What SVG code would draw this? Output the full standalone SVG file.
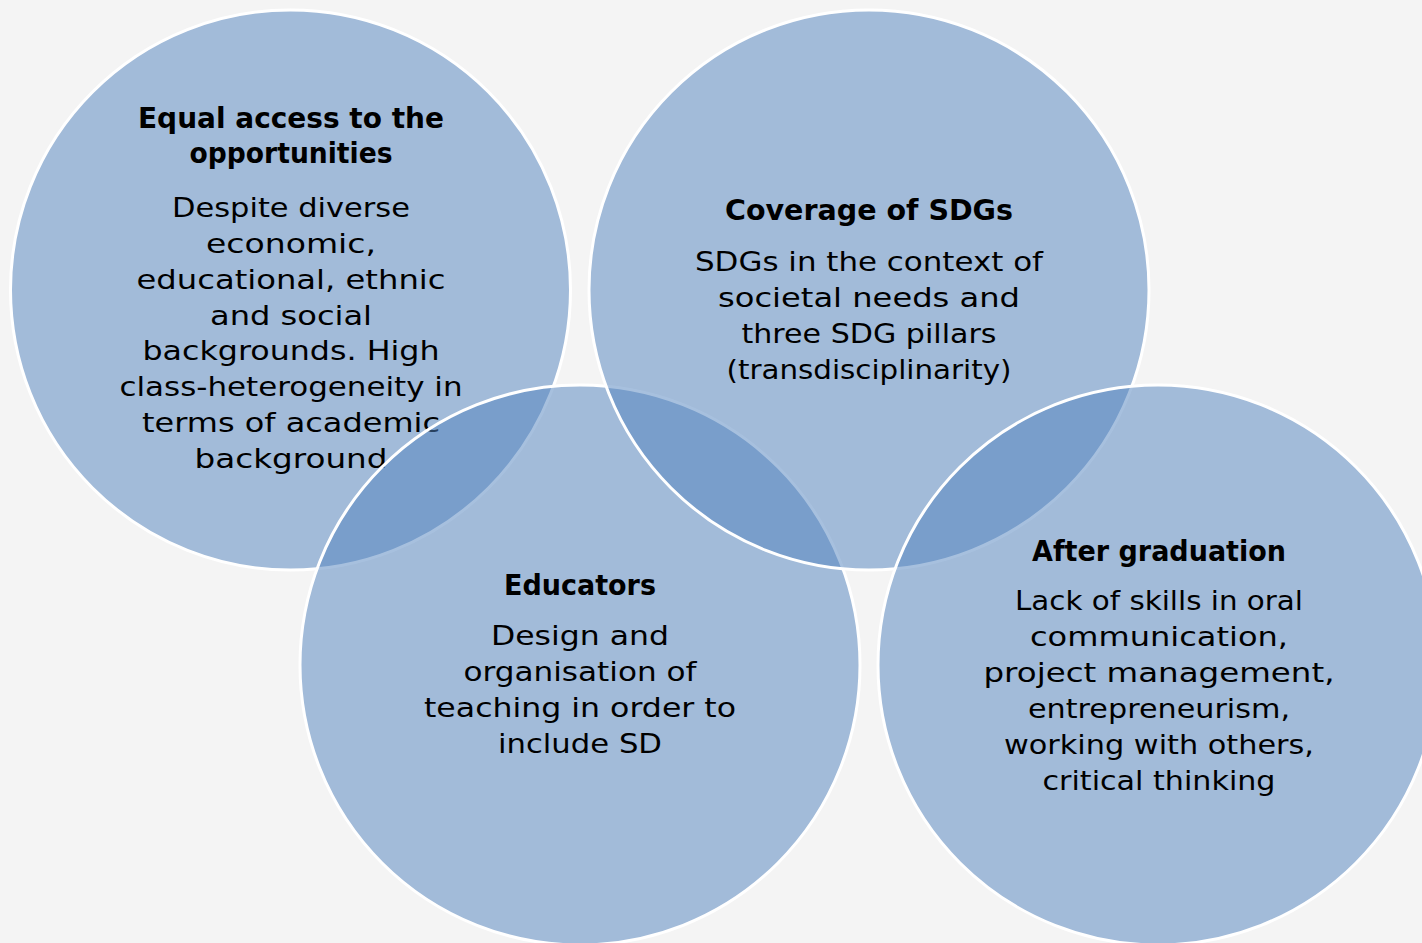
<svg xmlns="http://www.w3.org/2000/svg" width="1422" height="943" viewBox="0 0 1422 943">
<style>
.c{fill:#4f81bd;fill-opacity:0.5;stroke:#ffffff;stroke-width:3}
.t{font-family:"DejaVu Sans","Liberation Sans",sans-serif;font-size:27px;fill:#000;text-anchor:middle}
.b{font-family:"DejaVu Sans","Liberation Sans",sans-serif;font-size:28px;font-weight:bold;fill:#000;text-anchor:middle}
</style>
<rect x="0" y="0" width="1422" height="943" fill="#f4f4f4"/>
<g id="node-equal-access">
<circle class="c" cx="290.5" cy="290" r="280"/>
<text class="b" x="291" y="128" textLength="306" lengthAdjust="spacingAndGlyphs">Equal access to the</text>
<text class="b" x="291" y="163" textLength="203" lengthAdjust="spacingAndGlyphs">opportunities</text>
<text class="t" x="291" y="217" textLength="238" lengthAdjust="spacingAndGlyphs">Despite diverse</text>
<text class="t" x="291" y="253" textLength="170" lengthAdjust="spacingAndGlyphs">economic,</text>
<text class="t" x="291" y="289" textLength="309" lengthAdjust="spacingAndGlyphs">educational, ethnic</text>
<text class="t" x="291" y="325" textLength="162" lengthAdjust="spacingAndGlyphs">and social</text>
<text class="t" x="291" y="360" textLength="297" lengthAdjust="spacingAndGlyphs">backgrounds. High</text>
<text class="t" x="291" y="396" textLength="343" lengthAdjust="spacingAndGlyphs">class-heterogeneity in</text>
<text class="t" x="291" y="432" textLength="298" lengthAdjust="spacingAndGlyphs">terms of academic</text>
<text class="t" x="291" y="468" textLength="193" lengthAdjust="spacingAndGlyphs">background</text>
</g>
<g id="node-educators">
<circle class="c" cx="580" cy="665" r="280"/>
<text class="b" x="580" y="595" textLength="152" lengthAdjust="spacingAndGlyphs">Educators</text>
<text class="t" x="580" y="645" textLength="178" lengthAdjust="spacingAndGlyphs">Design and</text>
<text class="t" x="580" y="681" textLength="233" lengthAdjust="spacingAndGlyphs">organisation of</text>
<text class="t" x="580" y="717" textLength="312" lengthAdjust="spacingAndGlyphs">teaching in order to</text>
<text class="t" x="580" y="753" textLength="164" lengthAdjust="spacingAndGlyphs">include SD</text>
</g>
<g id="node-coverage">
<circle class="c" cx="869" cy="290" r="280"/>
<text class="b" x="869" y="220" textLength="288" lengthAdjust="spacingAndGlyphs">Coverage of SDGs</text>
<text class="t" x="869" y="271" textLength="348" lengthAdjust="spacingAndGlyphs">SDGs in the context of</text>
<text class="t" x="869" y="307" textLength="302" lengthAdjust="spacingAndGlyphs">societal needs and</text>
<text class="t" x="869" y="343" textLength="255" lengthAdjust="spacingAndGlyphs">three SDG pillars</text>
<text class="t" x="869" y="379" textLength="285" lengthAdjust="spacingAndGlyphs">(transdisciplinarity)</text>
</g>
<g id="node-after-graduation">
<circle class="c" cx="1158" cy="665" r="280"/>
<text class="b" x="1159" y="561" textLength="254" lengthAdjust="spacingAndGlyphs">After graduation</text>
<text class="t" x="1159" y="610" textLength="288" lengthAdjust="spacingAndGlyphs">Lack of skills in oral</text>
<text class="t" x="1159" y="646" textLength="258" lengthAdjust="spacingAndGlyphs">communication,</text>
<text class="t" x="1159" y="682" textLength="351" lengthAdjust="spacingAndGlyphs">project management,</text>
<text class="t" x="1159" y="718" textLength="262" lengthAdjust="spacingAndGlyphs">entrepreneurism,</text>
<text class="t" x="1159" y="754" textLength="310" lengthAdjust="spacingAndGlyphs">working with others,</text>
<text class="t" x="1159" y="790" textLength="233" lengthAdjust="spacingAndGlyphs">critical thinking</text>
</g>
</svg>
